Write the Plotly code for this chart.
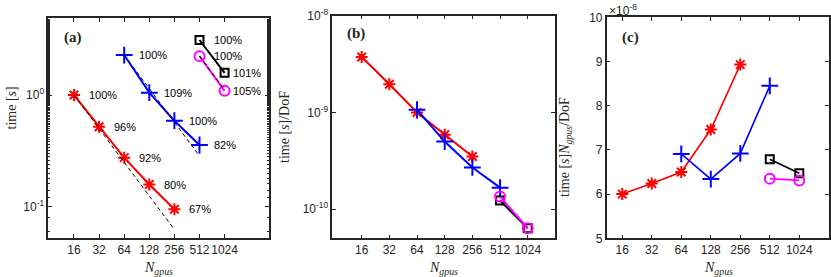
import math
import plotly.graph_objects as go

# ---------------- data ----------------
N_ticks = [16, 32, 64, 128, 256, 512, 1024]
N_tick_labels = ["16", "32", "64", "128", "256", "512", "1024"]

N_red = [16, 32, 64, 128, 256]
N_blue = [64, 128, 256, 512]
N_black = [512, 1024]
N_mag = [512, 1024]

# (a) time [s]
a_red = [1.0, 0.52, 0.275, 0.158, 0.095]
a_blue = [2.28, 1.05, 0.589, 0.357]
a_black = [3.11, 1.58]
a_mag = [2.23, 1.09]
# ideal-scaling dashed reference lines (end points)
N_red_ideal = [16, 256]
a_red_ideal = [1.0, 0.0625]
N_blue_ideal = [64, 512]
a_blue_ideal = [2.28, 0.285]
N_black_ideal = [512, 1024]
a_black_ideal = [3.11, 1.555]
N_mag_ideal = [512, 1024]
a_mag_ideal = [2.23, 1.115]
# parallel efficiency labels
lab_red = ["100%", "96%", "92%", "80%", "67%"]
lab_blue = ["100%", "109%", "100%", "82%"]
lab_black = ["100%", "101%"]
lab_mag = ["100%", "105%"]

# (b) time [s]/DoF
b_red = [3.74e-9, 1.96e-9, 1.0e-9, 5.87e-10, 3.5e-10]
b_blue = [1.066e-9, 5.0e-10, 2.7e-10, 1.67e-10]
b_black = [1.23e-10, 6.35e-11]
b_mag = [1.35e-10, 6.35e-11]

# (c) time [s] N_gpus / DoF   (units of 1e-8)
c_red = [6.00, 6.24, 6.50, 7.46, 8.93]
c_blue = [6.91, 6.34, 6.92, 8.45]
c_black = [6.79, 6.47]
c_mag = [6.35, 6.31]
c_ticks = [5, 6, 7, 8, 9, 10]

# ---------------- styling ----------------
W, H = 831, 277
RED, BLUE, BLACK, MAG = "#FF0000", "#0000FF", "#000000", "#FF00FF"
AX = "#262626"
SANS = "Liberation Sans, Arial, sans-serif"
SERIF = "Liberation Serif, Times New Roman, serif"

series_style = {
    "red": dict(color=RED, symbol="asterisk-open", size=10),
    "blue": dict(color=BLUE, symbol="cross-thin-open", size=12),
    "black": dict(color=BLACK, symbol="square-open", size=8),
    "mag": dict(color=MAG, symbol="circle-open", size=10),
}


def px_x(p):
    return p / W


def px_y(p):
    return 1 - p / H


fig = go.Figure()


def add_series(xs, ys, key, xa, ya, lw=2):
    st = series_style[key]
    fig.add_trace(go.Scatter(
        x=xs, y=ys, mode="lines+markers", xaxis=xa, yaxis=ya,
        line=dict(color=st["color"], width=lw),
        marker=dict(symbol=st["symbol"], size=st["size"], color=st["color"],
                    line=dict(color=st["color"], width=2)),
        showlegend=False, hoverinfo="skip"))


def add_ideal(xs, ys, xa, ya):
    fig.add_trace(go.Scatter(
        x=xs, y=ys, mode="lines", xaxis=xa, yaxis=ya,
        line=dict(color="black", width=1, dash="4px,3px"),
        showlegend=False, hoverinfo="skip"))


# panel (a)
add_series(N_red, a_red, "red", "x", "y")
add_series(N_blue, a_blue, "blue", "x", "y")
add_series(N_black, a_black, "black", "x", "y")
add_series(N_mag, a_mag, "mag", "x", "y")
add_ideal(N_red_ideal, a_red_ideal, "x", "y")
add_ideal(N_blue_ideal, a_blue_ideal, "x", "y")
add_ideal(N_black_ideal, a_black_ideal, "x", "y")
add_ideal(N_mag_ideal, a_mag_ideal, "x", "y")

# panel (b)
add_series(N_red, b_red, "red", "x2", "y2")
add_series(N_blue, b_blue, "blue", "x2", "y2")
add_series(N_black, b_black, "black", "x2", "y2")
add_series(N_mag, b_mag, "mag", "x2", "y2")

# panel (c)
add_series(N_red, c_red, "red", "x3", "y3", lw=1.6)
add_series(N_blue, c_blue, "blue", "x3", "y3", lw=1.6)
add_series(N_black, c_black, "black", "x3", "y3", lw=1.6)
add_series(N_mag, c_mag, "mag", "x3", "y3", lw=1.6)

annotations = []
# efficiency labels in (a)
for xs, ys, labs in [(N_red, a_red, lab_red), (N_blue, a_blue, lab_blue),
                     (N_black, a_black, lab_black), (N_mag, a_mag, lab_mag)]:
    for n, v, t in zip(xs, ys, labs):
        annotations.append(dict(
            x=math.log10(n), y=math.log10(v), xref="x", yref="y", text=t,
            showarrow=False, xanchor="left", yanchor="middle",
            xshift=6 if n == 1024 else 13,
            font=dict(family=SANS, size=11, color="black")))

# panel labels
for txt, x, y in [("(a)", 62, 37), ("(b)", 345, 33), ("(c)", 620, 38)]:
    annotations.append(dict(x=px_x(x), y=px_y(y), xref="paper", yref="paper",
                            text="<b>" + txt + "</b>", showarrow=False,
                            xanchor="left", yanchor="middle",
                            font=dict(family=SERIF, size=15, color=AX)))

# x titles
xt = "<i>N</i><sub><i>gpus</i></sub>"
for cx in [158.6, 443.6, 718]:
    annotations.append(dict(x=px_x(cx), y=px_y(268), xref="paper", yref="paper",
                            text=xt, showarrow=False, xanchor="center",
                            yanchor="middle",
                            font=dict(family=SERIF, size=14, color=AX)))
# y titles
for txt, cx, cy in [("time [<i>s</i>]", 10.5, 108),
                    ("time [<i>s</i>]/DoF", 284, 127),
                    ("time [<i>s</i>]<i>N</i><sub><i>gpus</i></sub>/DoF", 565, 147)]:
    annotations.append(dict(x=px_x(cx), y=px_y(cy), xref="paper", yref="paper",
                            text=txt, showarrow=False, textangle=-90,
                            xanchor="center", yanchor="middle",
                            font=dict(family=SERIF, size=14, color=AX)))
# exponent label for (c)
annotations.append(dict(x=px_x(607), y=px_y(10), xref="paper", yref="paper",
                        text="×10<sup>-8</sup>", showarrow=False,
                        xanchor="left", yanchor="middle",
                        font=dict(family=SANS, size=12, color=AX)))

common = dict(showline=True, linecolor=AX, linewidth=1.5, mirror="allticks",
              ticks="inside", ticklen=4, tickwidth=1, tickcolor=AX,
              showgrid=False, zeroline=False, automargin=False,
              tickfont=dict(family=SANS, size=12, color=AX))


def xaxis(dom_px, lo, hi, anchor):
    return dict(common, type="log", domain=[px_x(dom_px[0]), px_x(dom_px[1])],
                range=[math.log10(lo), math.log10(hi)], anchor=anchor,
                tickvals=N_ticks, ticktext=N_tick_labels, tickangle=0)


fig.update_layout(
    width=W, height=H, margin=dict(l=0, r=0, t=0, b=0),
    paper_bgcolor="white", plot_bgcolor="white",
    xaxis=xaxis((48.3, 269), 7.87, 3491, "y"),
    xaxis2=xaxis((332.3, 555), 7.66, 2028, "y2"),
    xaxis3=xaxis((606.7, 829), 11.1, 2058, "y3"),
    yaxis=dict(common, type="log", anchor="x",
               domain=[px_y(238), px_y(18.3)], range=[-1.28, 0.687],
               tickvals=[0.1, 1], ticktext=["10<sup>-1</sup>", "10<sup>0</sup>"],
               minor=dict(ticks="inside", ticklen=2, tickcolor=AX, showgrid=False)),
    yaxis2=dict(common, type="log", anchor="x2",
                domain=[px_y(238.3), px_y(15.7)], range=[math.log10(5e-11), -8],
                tickvals=[1e-10, 1e-9, 1e-8],
                ticktext=["10<sup>-10</sup>", "10<sup>-9</sup>", "10<sup>-8</sup>"]),
    yaxis3=dict(common, anchor="x3",
                domain=[px_y(238.3), px_y(17.3)], range=[5, 10],
                tickvals=c_ticks, ticktext=[str(t) for t in c_ticks]),
    annotations=annotations,
)

fig.write_html("out.html",
               config={"displayModeBar": False},
               post_script="document.body.style.margin='0px';"
                           "document.body.style.overflow='hidden';")
